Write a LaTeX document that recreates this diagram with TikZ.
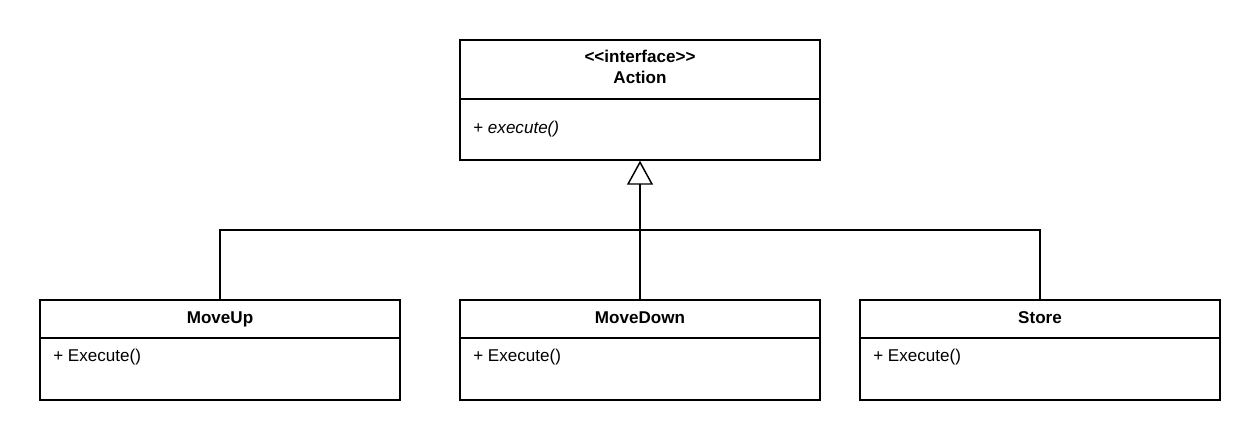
\documentclass[tikz,border=0pt]{standalone}
\usepackage{fontspec}
\setmainfont{Liberation Sans}
\usetikzlibrary{arrows.meta}
\begin{document}
\begin{tikzpicture}[x=0.75pt,y=-0.75pt,
  classbox/.style={draw, line width=1.1pt, minimum width=270pt, inner sep=0pt},
  ttl/.style={font=\fontsize{12.8pt}{15.6pt}\selectfont\bfseries, align=center, inner sep=0pt, anchor=base},
  meth/.style={font=\fontsize{12.8pt}{15.6pt}\selectfont, anchor=base west, inner sep=0pt},
  conn/.style={line width=1.1pt},
  inherit/.style={conn, -{Triangle[open, length=18pt, width=19.5pt, line width=1.1pt]}}]
\useasboundingbox (0,0) rectangle (1260,440);
% interface
\node[classbox, minimum height=90pt] (action) at (640,100) {};
\draw[conn] (460,99) -- (820,99);
\node[ttl] (actiont) at (640,62.5) {<\kern0pt<interface>\kern0pt>};
\node[ttl] (actiont2) at (640,83.5) {Action};
\node[meth] (actionm) at (473,133) {+ \textit{execute()}};
% subclasses
\node[classbox, minimum height=75pt] (moveup) at (220,350) {};
\draw[conn] (40,338) -- (400,338);
\node[ttl] (moveupt) at (220,323) {MoveUp};
\node[meth] (moveupm) at (53,361) {+ Execute()};
\node[classbox, minimum height=75pt] (movedown) at (640,350) {};
\draw[conn] (460,338) -- (820,338);
\node[ttl] (movedownt) at (640,323) {MoveDown};
\node[meth] (movedownm) at (473,361) {+ Execute()};
\node[classbox, minimum height=75pt] (store) at (1040,350) {};
\draw[conn] (860,338) -- (1220,338);
\node[ttl] (storet) at (1040,323) {Store};
\node[meth] (storem) at (873,361) {+ Execute()};
% connectors
\coordinate (j) at (640,230);
\draw[inherit] (movedown.north) -- (action.south);
\draw[conn] (moveup.north) |- (j) -| (store.north);
\end{tikzpicture}
\end{document}
